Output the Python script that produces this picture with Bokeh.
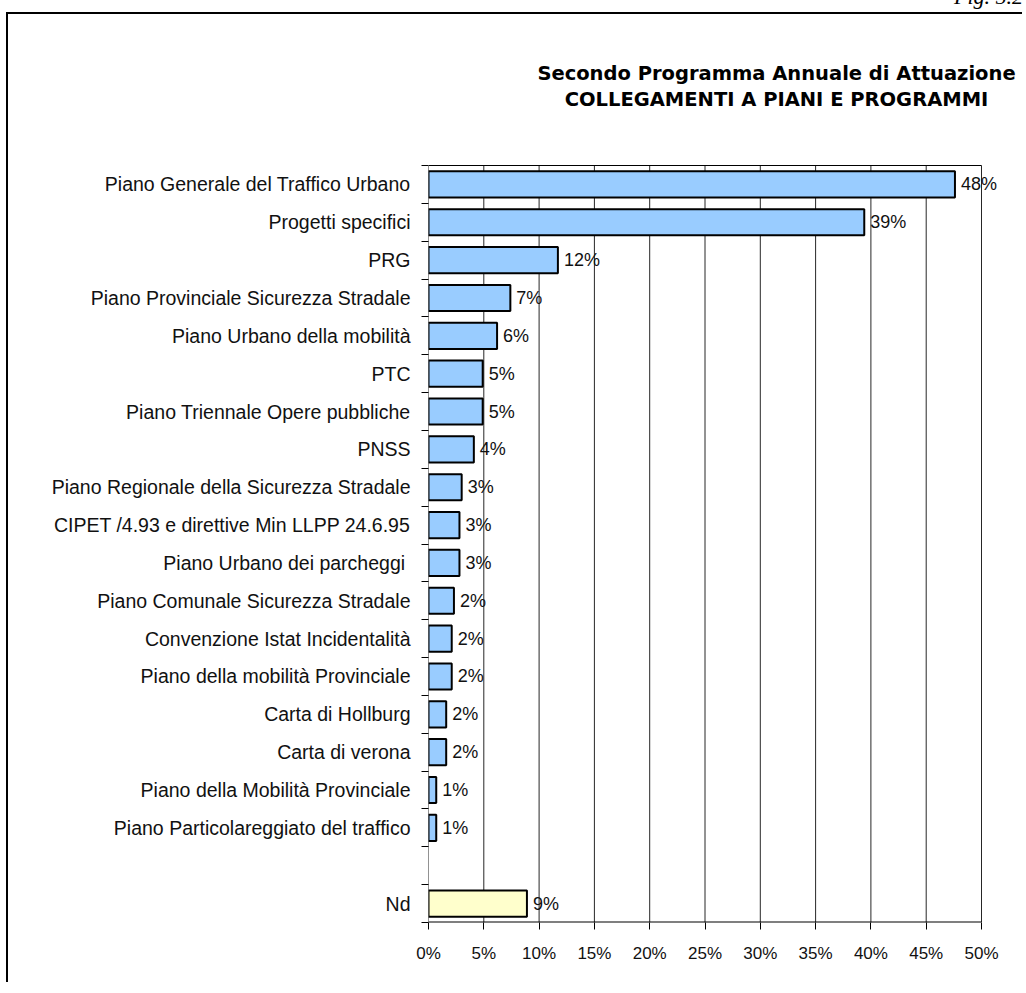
from bokeh.plotting import figure
from bokeh.models import FixedTicker, Label, Div, Range1d
from bokeh.layouts import column
from bokeh.core.properties import value
from bokeh.embed import file_html
from bokeh.resources import INLINE

# ---------------- data ----------------
categories = [
    "Piano Generale del Traffico Urbano",
    "Progetti specifici",
    "PRG",
    "Piano Provinciale Sicurezza Stradale",
    "Piano Urbano della mobilità",
    "PTC",
    "Piano Triennale Opere pubbliche",
    "PNSS",
    "Piano Regionale della Sicurezza Stradale",
    "CIPET /4.93 e direttive Min LLPP 24.6.95",
    "Piano Urbano dei parcheggi ",
    "Piano Comunale Sicurezza Stradale",
    "Convenzione Istat Incidentalità",
    "Piano della mobilità Provinciale",
    "Carta di Hollburg",
    "Carta di verona",
    "Piano della Mobilità Provinciale",
    "Piano Particolareggiato del traffico",
]
values = [47.6, 39.4, 11.7, 7.4, 6.2, 4.9, 4.9, 4.1, 3.0, 2.8, 2.8, 2.3,
          2.1, 2.1, 1.6, 1.6, 0.7, 0.7]
value_labels = ["48%", "39%", "12%", "7%", "6%", "5%", "5%", "4%", "3%", "3%",
                "3%", "2%", "2%", "2%", "2%", "2%", "1%", "1%"]

nd_category = "Nd"
nd_value = 8.9
nd_label = "9%"

x_ticks = [0, 5, 10, 15, 20, 25, 30, 35, 40, 45, 50]
x_tick_labels = ["0%", "5%", "10%", "15%", "20%", "25%", "30%", "35%", "40%",
                 "45%", "50%"]

title_line1 = "Secondo Programma Annuale di Attuazione"
title_line2 = "COLLEGAMENTI A PIANI E PROGRAMMI"
fig_note = "Fig. 5.2"

# ---------------- layout helpers ----------------
n = len(categories)
positions = [i + 1 for i in range(n)]          # one row per category
nd_position = n + 2                             # one empty row before "Nd"
n_rows = nd_position
row_top, row_bottom = 0.5, n_rows + 0.5
boundaries = [i + 0.5 for i in range(n_rows + 1)]
x_min, x_max = x_ticks[0], x_ticks[-1]

LABEL_FONT = "Liberation Sans"
TITLE_FONT = "DejaVu Sans"

# pixel layout of the canvas
W, H = 1016, 970
PL, PR, PT, PB = 420, 973, 151, 908    # plot-area box (0%..50%, first..last row)
FT = 30                                 # frame extends up so titles fit inside
FR = W - 1                              # and right so the "48%" label is not clipped
px_per_x = (PR - PL) / (x_max - x_min)
px_per_row = (PB - PT) / (row_bottom - row_top)


def data_x(px):
    return x_min + (px - PL) / px_per_x


def data_y(py):
    return row_top + (py - PT) / px_per_row


p = figure(width=W, height=H,
           x_range=Range1d(x_min, data_x(FR)),
           y_range=Range1d(row_bottom, data_y(FT)),
           output_backend="svg", toolbar_location=None,
           min_border_left=PL, min_border_right=W - FR,
           min_border_top=FT, min_border_bottom=H - PB)
p.outline_line_color = None
p.background_fill_color = "white"
p.border_fill_color = "white"
p.xgrid.visible = False
p.ygrid.visible = False
p.styles = {"border-left": "2px solid black", "border-top": "2px solid black"}

# vertical grid lines (0% and 50% act as the plot-area border)
p.segment(x0=x_ticks, y0=row_top, x1=x_ticks, y1=row_bottom,
          line_color="black", line_width=1, line_alpha=0.85)
# top and bottom border of the plot area
p.segment(x0=[x_min, x_min], y0=[row_top, row_bottom],
          x1=[x_max, x_max], y1=[row_top, row_bottom],
          line_color="black", line_width=[1, 2])

# bars
p.hbar(y=positions, left=0, right=values, height=0.69,
       fill_color="#99CCFF", line_color="black", line_width=2)
p.hbar(y=[nd_position], left=0, right=[nd_value], height=0.69,
       fill_color="#FFFFCC", line_color="black", line_width=2)

# value labels
p.text(x=values + [nd_value], y=positions + [nd_position],
       text=value_labels + [nd_label], x_offset=6,
       text_baseline="middle", text_align="left",
       text_font=value(LABEL_FONT), text_font_size="18px", text_color="#111111")

# y axis
yax = p.yaxis[0]
yax.ticker = FixedTicker(ticks=positions + [nd_position], minor_ticks=boundaries)
yax.major_label_overrides = {pos: lab for pos, lab in
                             zip(positions + [nd_position], categories + [nd_category])}
yax.major_tick_out = 0
yax.major_tick_in = 0
yax.minor_tick_out = 7
yax.minor_tick_in = 0
yax.minor_tick_line_color = "black"
yax.axis_line_color = None
yax.major_label_standoff = 11
yax.major_label_text_font = LABEL_FONT
yax.major_label_text_font_size = "19.5px"
yax.major_label_text_color = "#111111"

# x axis
xax = p.xaxis[0]
xax.ticker = FixedTicker(ticks=x_ticks, minor_ticks=[])
xax.major_label_overrides = {t: lab for t, lab in zip(x_ticks, x_tick_labels)}
xax.major_tick_out = 7
xax.major_tick_in = 0
xax.major_tick_line_color = "black"
xax.axis_line_color = None
xax.major_label_standoff = 14
xax.major_label_text_font = LABEL_FONT
xax.major_label_text_font_size = "17px"
xax.major_label_text_color = "#111111"

# title lines
for txt, cy in [(title_line1, 59), (title_line2, 85)]:
    p.add_layout(Label(x=data_x(768), y=data_y(cy),
                       text=txt, text_align="center", text_baseline="middle",
                       text_font=TITLE_FONT, text_font_style="bold",
                       text_font_size="19.5px", text_color="black"))

fig_div = Div(
    text=('<div style="position:absolute; left:943px; top:-11px; '
          "font-family:'Liberation Serif'; font-style:italic; font-size:22px; "
          'line-height:22px; white-space:nowrap; color:black;">' + fig_note + '</div>'),
    width=1020, height=10,
    styles={"overflow": "visible", "position": "relative"})

layout = column(fig_div, p, spacing=0,
                styles={"margin-top": "-8px", "margin-left": "6px"})

open("out.html", "w").write(file_html(layout, INLINE))
